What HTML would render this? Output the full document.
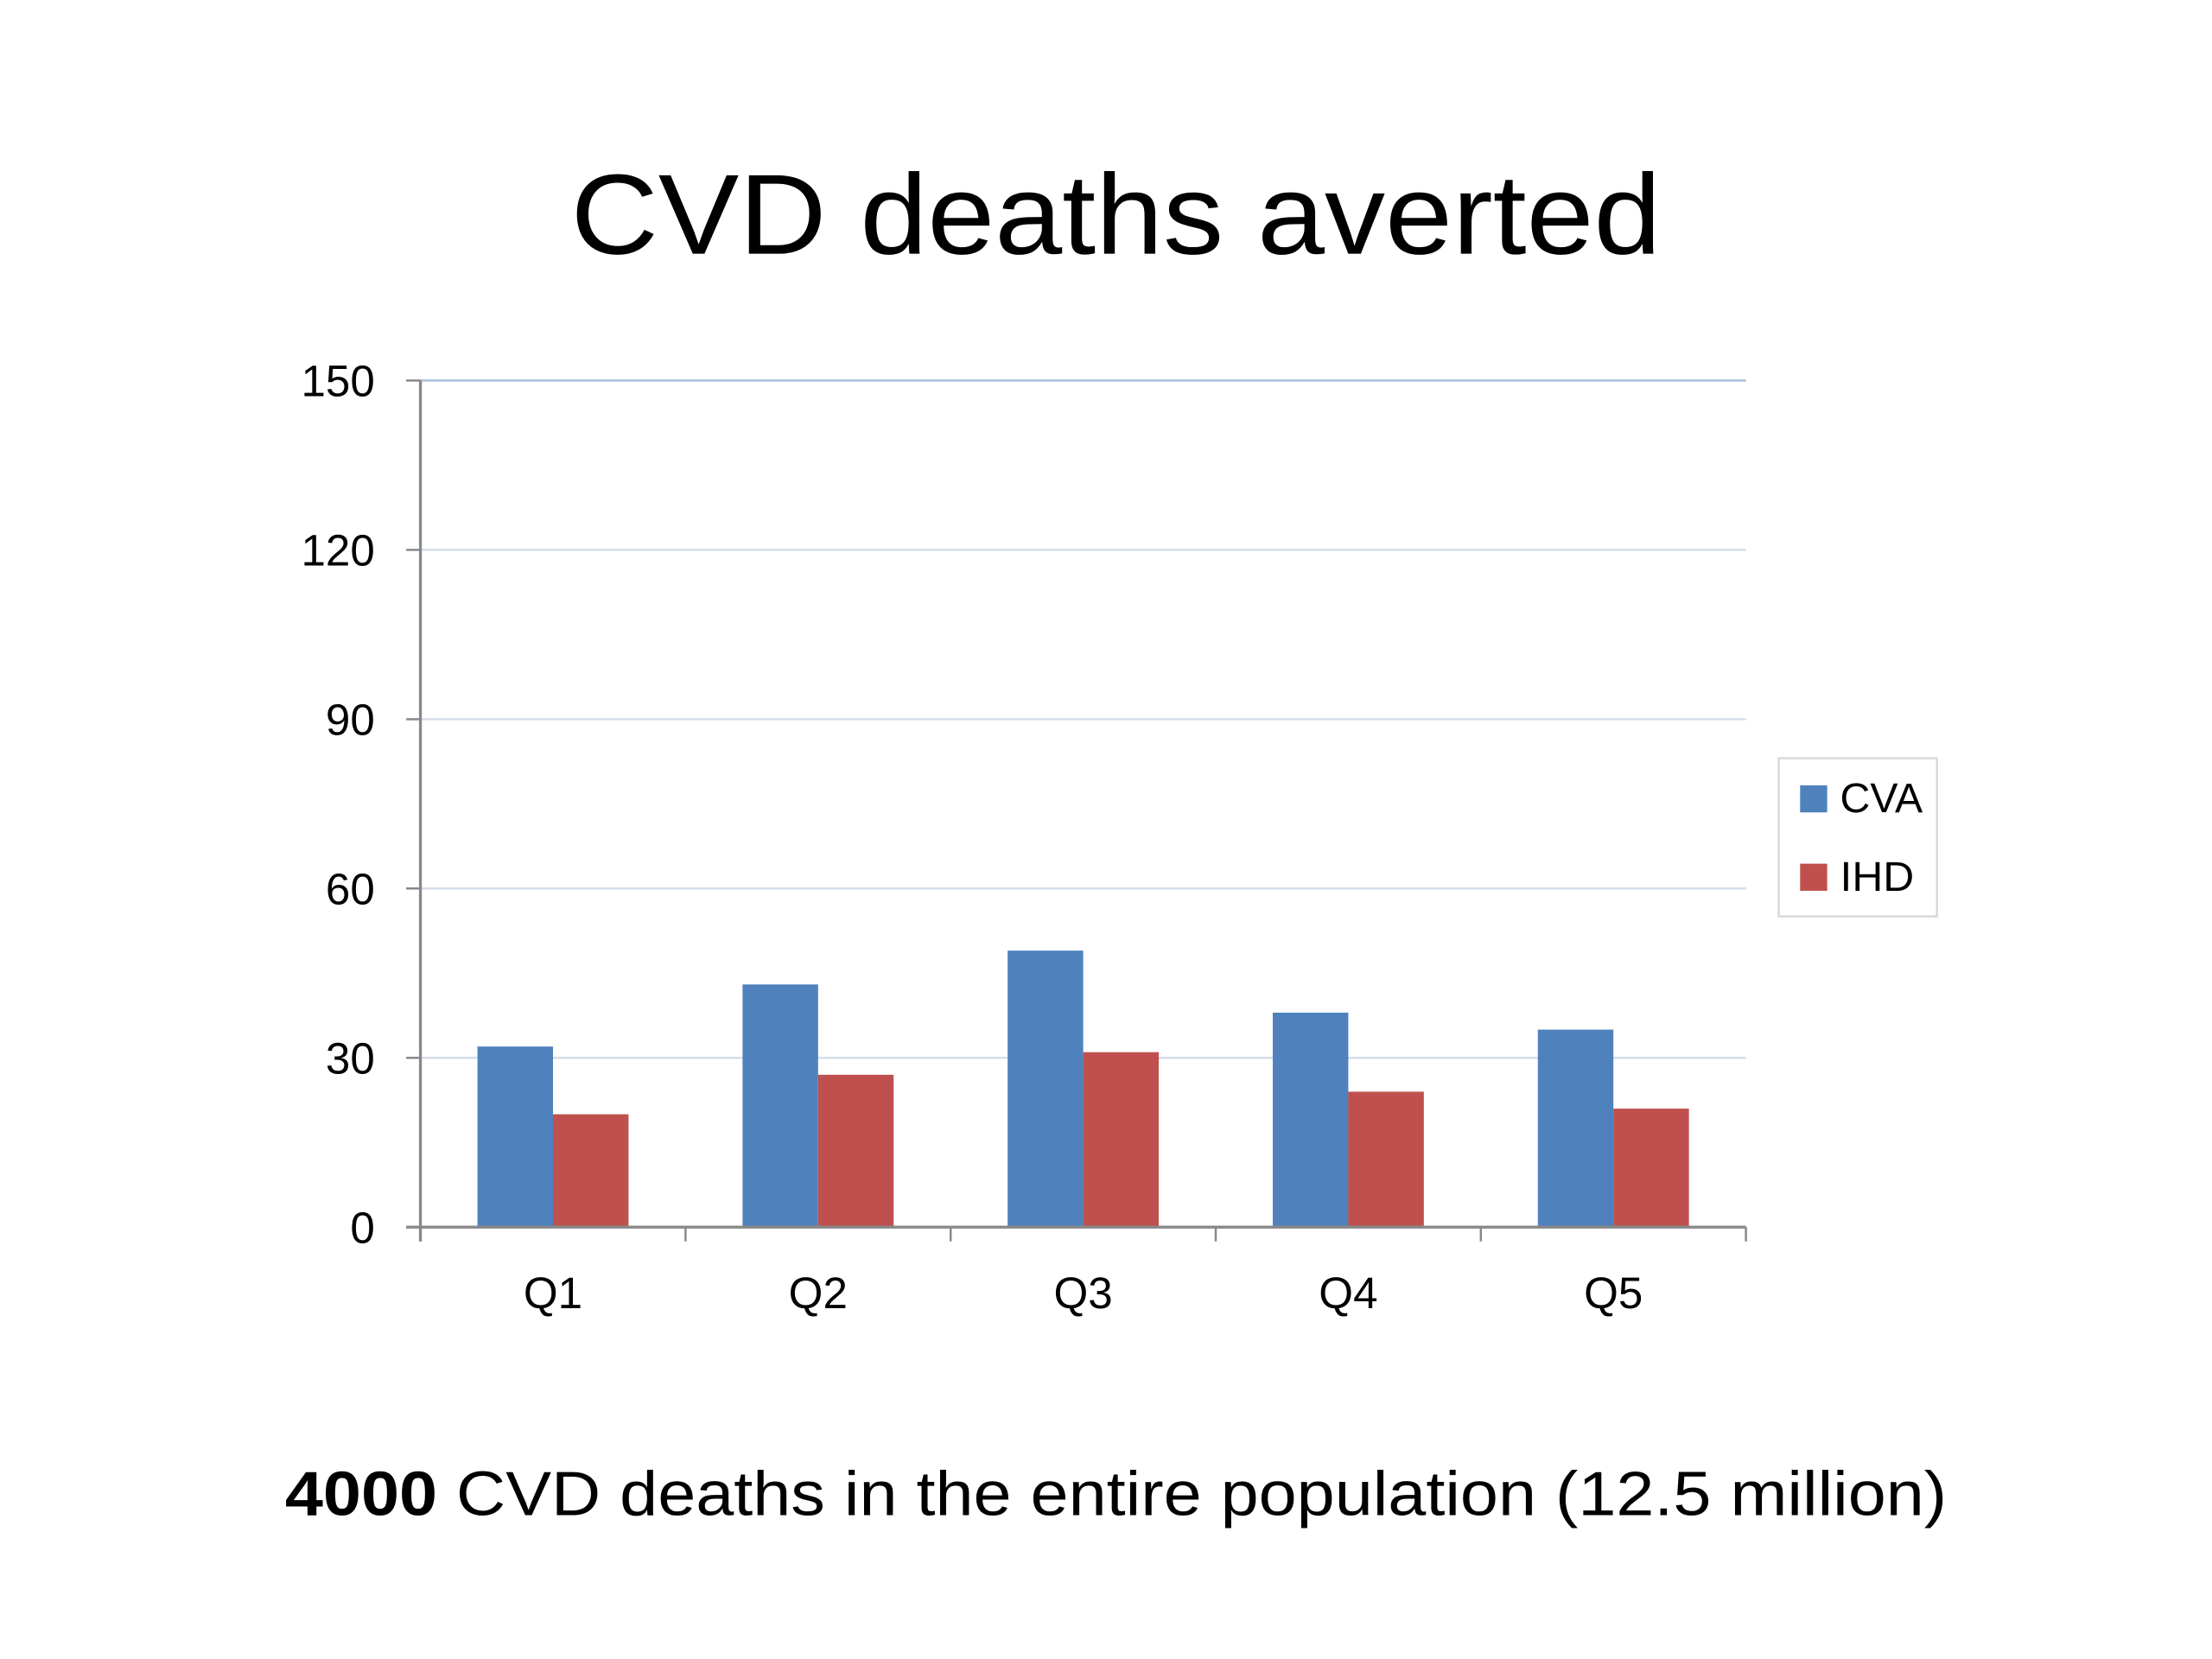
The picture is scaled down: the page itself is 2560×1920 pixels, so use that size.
<!DOCTYPE html>
<html><head><meta charset="utf-8"><style>
html,body{margin:0;padding:0;background:#fff;width:2560px;height:1920px;overflow:hidden}
svg{display:block}
text{font-family:"Liberation Sans",sans-serif;fill:#000}
</style></head><body>
<svg id="chart" width="2560" height="1920" viewBox="0 0 1552 1164" xmlns="http://www.w3.org/2000/svg">
<text x="783" y="178" text-anchor="middle" font-size="80" textLength="765" lengthAdjust="spacingAndGlyphs">CVD deaths averted</text>
<g id="grid"></g>
<g id="bars"></g>
<g id="axes"></g>
<g>
<rect x="1248" y="532" width="111" height="111" fill="#fff" stroke="#d9d9d9" stroke-width="1.5"/>
<rect x="1263" y="551" width="19" height="19" fill="#4F81BD"/>
<text x="1291" y="570" font-size="29" textLength="58" lengthAdjust="spacingAndGlyphs">CVA</text>
<rect x="1263" y="606" width="19" height="19" fill="#C0504D"/>
<text x="1291" y="625" font-size="29" textLength="52" lengthAdjust="spacingAndGlyphs">IHD</text>
</g>
<text x="200" y="1063" font-size="44" textLength="1166" lengthAdjust="spacingAndGlyphs"><tspan font-weight="bold">4000</tspan> CVD deaths in the entire population (12.5 million)</text>
</svg>
<script>
const categories = ["Q1","Q2","Q3","Q4","Q5"];
const cvaValues = [32,43,49,38,35];
const ihdValues = [20,27,31,24,21];
const yTicks = [0,30,60,90,120,150];

const NS = "http://www.w3.org/2000/svg";
const X0 = 295, X1 = 1225, Y0 = 861, Y1 = 267, YMAX = 150;
const y = v => Y0 - (v / YMAX) * (Y0 - Y1);
const catW = (X1 - X0) / categories.length;
const x = i => X0 + i * catW;
const barW = 53;
function mk(tag, attrs, parent){const e=document.createElementNS(NS,tag);for(const k in attrs)e.setAttribute(k,attrs[k]);parent.appendChild(e);return e;}
const grid=document.getElementById('grid'), bars=document.getElementById('bars'), axes=document.getElementById('axes');
yTicks.forEach(t=>{
  if(t>0){
    const g=mk('line',{x1:X0,x2:X1,y1:y(t),y2:y(t),stroke:t===YMAX?'#a9bfdc':'#d5deea','stroke-width':1.5},grid);
    
    
  }
  const tk=mk('line',{x1:X0-10,x2:X0,y1:y(t),y2:y(t),stroke:'#888','stroke-width':1.5},axes);
  
  
  const lb=mk('text',{x:263,y:y(t)+11,'text-anchor':'end','font-size':31},axes);
  lb.textContent=t;
  
  
});
categories.forEach((c,i)=>{
  const cx = x(i)+catW/2;
  const b1=mk('rect',{x:cx-barW,y:y(cvaValues[i]),width:barW,height:Y0-y(cvaValues[i]),fill:'#4F81BD'},bars);
  
  
  const b2=mk('rect',{x:cx,y:y(ihdValues[i]),width:barW,height:Y0-y(ihdValues[i]),fill:'#C0504D'},bars);
  
  
  const lb=mk('text',{x:cx,y:918,'text-anchor':'middle','font-size':31},axes);
  lb.textContent=c;
  
  
});
for(let i=0;i<=categories.length;i++){
  const t=mk('line',{x1:x(i),x2:x(i),y1:Y0,y2:Y0+10,stroke:'#888','stroke-width':1.5},axes);
  
  
}
const ya=mk('line',{x1:X0,x2:X0,y1:Y1,y2:Y0+10,stroke:'#888','stroke-width':2},axes);


const xa=mk('line',{x1:X0-10,x2:X1,y1:Y0,y2:Y0,stroke:'#888','stroke-width':2},axes);


</script>
</body></html>
